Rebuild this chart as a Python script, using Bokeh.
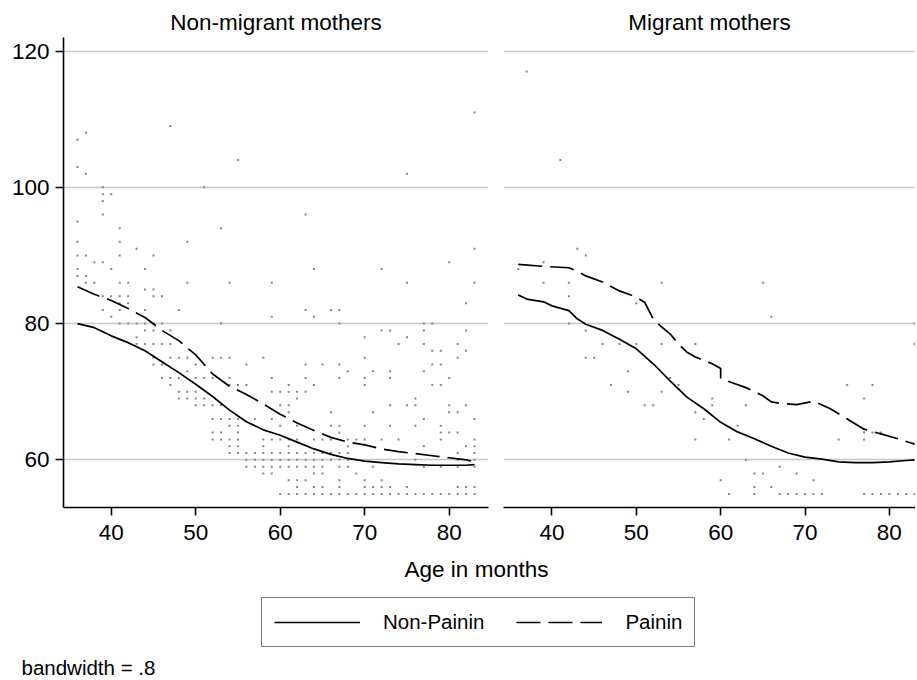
from bokeh.plotting import figure
from bokeh.layouts import column, row
from bokeh.models import Range1d, FixedTicker, Label, Legend, LegendItem, Title
from bokeh.embed import file_html
from bokeh.resources import INLINE

FONT = "Liberation Sans"

# ---------------- data ----------------
panel_titles = ["Non-migrant mothers", "Migrant mothers"]
x_ticks = [40, 50, 60, 70, 80]
y_ticks = [60, 80, 100, 120]
legend_labels = ["Non-Painin", "Painin"]
x_title = "Age in months"
note = "bandwidth = .8"

# Non-migrant mothers: scatter (age, value)
nm_age = [36, 37, 36, 37, 39, 39, 40, 39, 39, 36, 41, 47, 55, 51, 53, 83, 75, 63,
          36, 41, 49, 43, 36, 37, 41, 45, 38, 39, 36, 40, 44, 36, 37,
          37, 38, 41, 42, 49, 54, 59, 44, 45, 39, 40, 41, 42, 45, 46, 41, 42,
          39, 41, 44, 48, 40, 59, 41, 42, 43, 44, 45, 46, 53, 44, 45, 47, 43,
          43, 44, 45, 46, 47, 45, 47, 48, 49, 52, 53, 54, 58, 45, 46, 50, 51, 56,
          49, 46, 47, 48, 50, 51, 52, 54, 59, 47, 54, 55, 56, 48, 49, 50, 59,
          48, 49, 50, 51, 50, 51, 52, 53, 52, 53, 54, 55, 57, 59, 54, 55,
          52, 53, 55, 52, 53, 54, 55, 58, 59, 54, 55,
          83, 80, 64, 72, 75, 83, 82, 63, 66, 67, 64, 67, 77, 78, 72, 73, 77, 82,
          70, 75, 74, 77, 81, 78, 79, 82, 70, 81, 63, 65, 67, 78, 79, 68, 71, 73, 77,
          63, 67, 70, 73, 80, 61, 64, 70, 78, 79, 60, 61, 62, 63, 62, 76,
          60, 61, 73, 75, 76, 80, 82, 61, 66, 71, 80, 81, 77, 83,
          60, 62, 66, 67, 70, 73, 76, 79, 67, 79, 80, 81,
          60, 61, 62, 64, 65, 66, 68, 69, 70, 72, 74, 79, 83,
          61, 68, 77, 82, 83, 58,
          54, 55, 56, 57, 58, 59, 60, 61, 62, 63, 64, 65, 66, 67, 68, 81, 83,
          56, 57, 58, 59, 60, 61, 62, 63, 64, 65, 66, 67, 68, 76, 81, 83,
          56, 57, 58, 59, 60, 61, 62, 63, 64, 65, 67, 68, 71, 77, 79, 81, 83,
          58, 59, 64, 65, 69,
          61, 62, 63, 67, 70, 72,
          62, 64, 65, 67, 70, 71, 72, 73, 75, 81, 82, 83,
          60, 61, 62, 63, 64, 65, 66, 67, 68, 69, 70, 71, 72, 73, 74, 75, 76, 77,
          78, 79, 80, 81, 82, 83]
nm_val = [107, 108, 103, 102, 100, 99, 99, 98, 96, 95, 94, 109, 104, 100, 94, 111, 102, 96,
          92, 92, 92, 91, 90, 90, 90, 90, 89, 89, 88, 88, 88, 87, 87,
          86, 86, 86, 86, 86, 86, 86, 85, 85, 84, 84, 84, 84, 84, 84, 83, 83,
          82, 82, 82, 82, 81, 81, 80, 80, 80, 80, 80, 80, 80, 79, 79, 79, 78,
          77, 77, 77, 77, 77, 75, 75, 75, 75, 75, 75, 75, 75, 74, 74, 74, 74, 74,
          73, 72, 72, 72, 72, 72, 72, 72, 72, 71, 71, 71, 71, 70, 70, 70, 70,
          69, 69, 69, 69, 68, 68, 68, 68, 66, 66, 66, 66, 66, 66, 65, 65,
          64, 64, 64, 63, 63, 63, 63, 63, 63, 62, 62,
          91, 89, 88, 88, 86, 86, 83, 82, 82, 82, 81, 80, 80, 80, 79, 79, 79, 79,
          78, 78, 77, 77, 77, 76, 76, 76, 75, 75, 74, 74, 74, 74, 74, 73, 73, 73, 73,
          72, 72, 72, 72, 72, 71, 71, 71, 71, 71, 70, 70, 70, 70, 69, 69,
          68, 68, 68, 68, 68, 68, 68, 67, 67, 67, 67, 67, 66, 66,
          65, 65, 65, 65, 65, 65, 65, 65, 64, 64, 64, 64,
          63, 63, 63, 63, 63, 63, 63, 63, 63, 63, 63, 63, 63,
          62, 62, 62, 62, 62, 62,
          61, 61, 61, 61, 61, 61, 61, 61, 61, 61, 61, 61, 61, 61, 61, 61, 61,
          60, 60, 60, 60, 60, 60, 60, 60, 60, 60, 60, 60, 60, 60, 60, 60,
          59, 59, 59, 59, 59, 59, 59, 59, 59, 59, 59, 59, 59, 59, 59, 59, 59,
          58, 58, 58, 58, 58,
          57, 57, 57, 57, 57, 57,
          56, 56, 56, 56, 56, 56, 56, 56, 56, 56, 56, 56,
          55, 55, 55, 55, 55, 55, 55, 55, 55, 55, 55, 55, 55, 55, 55, 55, 55, 55,
          55, 55, 55, 55, 55, 55]

# Migrant mothers: scatter (age, value)
m_age = [37, 41, 43, 44, 39, 36, 39, 42, 53, 42, 50, 42, 44, 46, 48, 50, 53, 57,
         44, 45, 49, 54, 47, 55, 49, 53, 51, 52, 57, 58, 57,
         65, 66, 83, 83, 75, 78, 59, 77, 59, 63, 62, 61, 74, 77, 77, 78, 79,
         63, 67, 64, 65, 69, 60, 71, 64, 66,
         61, 64, 67, 68, 69, 70, 71, 72, 77, 78, 79, 80, 81, 82, 83]
m_val = [117, 104, 91, 90, 89, 88, 86, 86, 86, 84, 83, 80, 79, 77, 77, 77, 77, 77,
         75, 75, 73, 72, 71, 71, 70, 70, 68, 68, 67, 66, 63,
         86, 81, 80, 77, 71, 71, 69, 69, 68, 68, 65, 63, 63, 63, 64, 64, 64,
         60, 59, 58, 58, 58, 57, 57, 56, 56,
         55, 55, 55, 55, 55, 55, 55, 55, 55, 55, 55, 55, 55, 55, 55]

# lowess smooths
nm_np_age = [36, 38, 40, 42, 44, 46, 48, 50, 52, 54, 56, 58, 60, 62, 64, 66, 68, 70,
             72, 74, 76, 78, 80, 82, 83]
nm_np_val = [80.0, 79.4, 78.2, 77.2, 76.0, 74.4, 72.8, 71.1, 69.3, 67.3, 65.6, 64.4,
             63.6, 62.6, 61.6, 60.8, 60.2, 59.8, 59.6, 59.4, 59.3, 59.2, 59.2, 59.2, 59.3]
nm_p_age = [36, 38, 40, 42, 44, 46, 48, 50, 52, 54, 56, 58, 60, 62, 64, 66, 68, 70,
            72, 74, 76, 78, 80, 82, 83]
nm_p_val = [85.4, 84.3, 83.4, 82.2, 80.9, 79.0, 77.5, 75.4, 72.6, 70.8, 69.6, 68.2,
            66.7, 65.4, 64.3, 63.3, 62.6, 62.2, 61.6, 61.2, 60.9, 60.6, 60.3, 60.0, 59.7]
m_np_age = [36, 37, 39, 40, 42, 43, 44, 46, 48, 50, 52, 54, 56, 58, 60, 62, 64, 66,
            68, 70, 72, 74, 76, 78, 80, 82, 83]
m_np_val = [84.2, 83.6, 83.2, 82.6, 81.9, 80.7, 79.9, 79.0, 77.7, 76.3, 74.1, 71.6,
            69.2, 67.5, 65.5, 64.1, 63.1, 62.0, 61.0, 60.4, 60.1, 59.7, 59.6, 59.6,
            59.7, 59.9, 60.0]
m_p_age = [36, 39, 42, 43, 44, 46, 48, 50, 51, 52, 53, 54, 55, 56, 57, 58, 59, 60, 60,
           63, 65, 66, 67, 69, 71, 73, 75, 77, 79, 81, 83]
m_p_val = [88.7, 88.4, 88.2, 87.7, 87.0, 86.1, 84.8, 83.9, 83.1, 80.7, 79.5, 78.5, 77.0,
           75.8, 75.1, 74.6, 74.1, 73.4, 71.9, 70.6, 69.4, 68.5, 68.3, 68.1, 68.6, 67.5,
           66.0, 64.5, 63.8, 63.1, 62.3]

DASH = "24 8"
LW = 1.7
DOT = "#858585"
GRID = "#c8c8c8"
TICK_FS = "22.5px"
SMALL_FS = "20.5px"


def style_panel(p, show_y, title):
    p.outline_line_color = None
    p.xgrid.visible = False
    p.ygrid.ticker = FixedTicker(ticks=y_ticks)
    p.ygrid.grid_line_color = GRID
    p.ygrid.grid_line_width = 1.6
    p.xaxis.ticker = FixedTicker(ticks=x_ticks)
    axes = [p.xaxis[0]]
    if show_y:
        p.yaxis.ticker = FixedTicker(ticks=y_ticks)
        axes.append(p.yaxis[0])
    for ax in axes:
        ax.axis_line_color = "black"
        ax.axis_line_width = 1.6
        ax.major_tick_line_color = "black"
        ax.major_tick_line_width = 1.6
        ax.major_tick_out = 8
        ax.major_tick_in = 0
        ax.minor_tick_line_color = None
        ax.major_label_text_font = FONT
        ax.major_label_text_font_size = TICK_FS
        ax.major_label_text_color = "black"
    p.xaxis.major_label_standoff = 9
    if show_y:
        p.yaxis.major_label_standoff = 6
    p.title = Title(text=title, align="center", text_font=FONT, text_font_size=TICK_FS,
                    text_font_style="normal", text_color="black", standoff=6)


p1 = figure(width=495, height=557, x_range=Range1d(34.35, 84.65), y_range=Range1d(53, 122),
            output_backend="svg", toolbar_location=None,
            min_border_left=63, min_border_right=7, min_border_top=37, min_border_bottom=50)
style_panel(p1, True, panel_titles[0])
p1.scatter(nm_age, nm_val, marker="square", size=2, fill_color=DOT, line_color=None)
r_np = p1.line(nm_np_age, nm_np_val, line_color="black", line_width=LW)
r_p = p1.line(nm_p_age, nm_p_val, line_color="black", line_width=LW, line_dash=DASH)

p2 = figure(width=420, height=557, x_range=Range1d(34.25, 83.1), y_range=Range1d(53, 122),
            output_backend="svg", toolbar_location=None, y_axis_location=None,
            min_border_left=8, min_border_right=0, min_border_top=37, min_border_bottom=50)
style_panel(p2, False, panel_titles[1])
p2.scatter(m_age, m_val, marker="square", size=2, fill_color=DOT, line_color=None)
p2.line(m_np_age, m_np_val, line_color="black", line_width=LW)
p2.line(m_p_age, m_p_val, line_color="black", line_width=LW, line_dash=DASH)

# bottom strip: axis title, legend, note (legend keys reuse the series data, drawn off-range)
p3 = figure(width=910, height=122, x_range=Range1d(0, 1), y_range=Range1d(0, 1),
            output_backend="svg", toolbar_location=None,
            x_axis_location=None, y_axis_location=None, min_border=0)
p3.outline_line_color = None
p3.grid.visible = False
k1 = p3.line(nm_np_age, nm_np_val, line_color="black", line_width=LW)
k2 = p3.line(nm_p_age, nm_p_val, line_color="black", line_width=LW, line_dash=DASH)
leg = Legend(items=[LegendItem(label=legend_labels[0], renderers=[k1]),
                    LegendItem(label=legend_labels[1], renderers=[k2])],
             orientation="horizontal", location=(261, 32), margin=0, padding=12,
             spacing=32, glyph_width=86, glyph_height=20, label_standoff=23,
             label_text_font=FONT, label_text_font_size=SMALL_FS, label_text_color="black",
             border_line_color="black", border_line_width=1.4,
             background_fill_color="white", background_fill_alpha=1.0)
p3.add_layout(leg, "center")
p3.add_layout(Label(x=476, y=110, x_units="screen", y_units="screen", text=x_title,
                    text_font=FONT, text_font_size=TICK_FS, text_align="center",
                    text_baseline="alphabetic", text_color="black"))
p3.add_layout(Label(x=21, y=12, x_units="screen", y_units="screen", text=note,
                    text_font=FONT, text_font_size=SMALL_FS, text_align="left",
                    text_baseline="alphabetic", text_color="black"))

layout = column(row(p1, p2), p3)
open("out.html", "w").write(file_html(layout, INLINE))
